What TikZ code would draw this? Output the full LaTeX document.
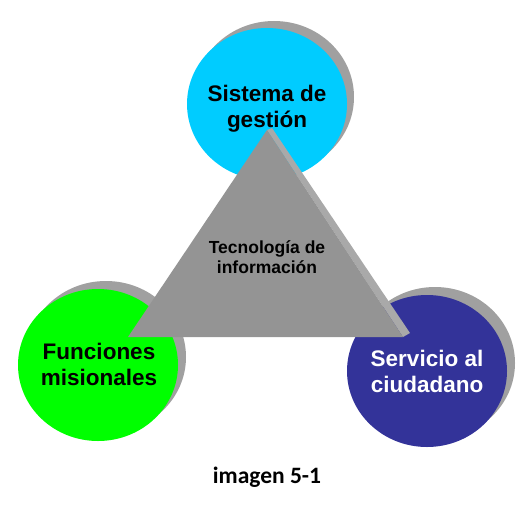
\documentclass[tikz,border=0pt]{standalone}
\usepackage{fontspec}
\setmainfont{Liberation Sans}
\newfontfamily\captionfont{Carlito}
\usetikzlibrary{shapes.geometric}
\definecolor{gestioncyan}{HTML}{00CCFF}
\definecolor{misiongreen}{HTML}{00FF00}
\definecolor{serviciublue}{HTML}{333399}
\definecolor{shadowgray}{HTML}{A0A0A0}
\definecolor{facegray}{HTML}{949494}
\definecolor{bevelgray}{HTML}{A9A9A9}
\tikzset{
  disc/.style={ellipse, minimum width=160pt, minimum height=152pt, inner sep=0pt},
  discshadow/.style={disc, fill=shadowgray},
  disctext/.style={align=center, font=\fontsize{22.5}{26}\selectfont\bfseries},
}

\begin{document}
\begin{tikzpicture}[x=1pt,y=-1pt]
    \useasboundingbox (0,0) rectangle (532,511);
    % circles with their shadows
    \node[discshadow] (gestionS) at (274,97) {};
    \node[disc, fill=gestioncyan] (gestion) at (267,104) {};
    \node[discshadow] (misionS) at (106,357) {};
    \node[disc, fill=misiongreen] (mision) at (98,365) {};
    \node[discshadow] (servicioS) at (435,363) {};
    \node[disc, fill=serviciublue] (servicio) at (427,371) {};
    \node[disctext] (gestionT) at (267,109) {Sistema de\\gestión};
    \node[disctext] (misionT) at (99,364) {Funciones\\misionales};
    \node[disctext, text=white] (servicioT) at (427,371) {Servicio al\\ciudadano};
    % triangle
    \fill[bevelgray] (267,130) -- (272,128) -- (410,333) -- (403,337) -- cycle;
    \fill[facegray] (128,337) -- (267,130) -- (403,337) -- cycle;
    \node[align=center, font=\fontsize{17.5}{20.5}\selectfont\bfseries] (tecnologia) at (267,257) {Tecnología de\\información};
    \node[font=\captionfont\fontsize{23.5}{27}\selectfont\bfseries] (caption) at (267,477) {imagen 5-1};
\end{tikzpicture}
\end{document}
